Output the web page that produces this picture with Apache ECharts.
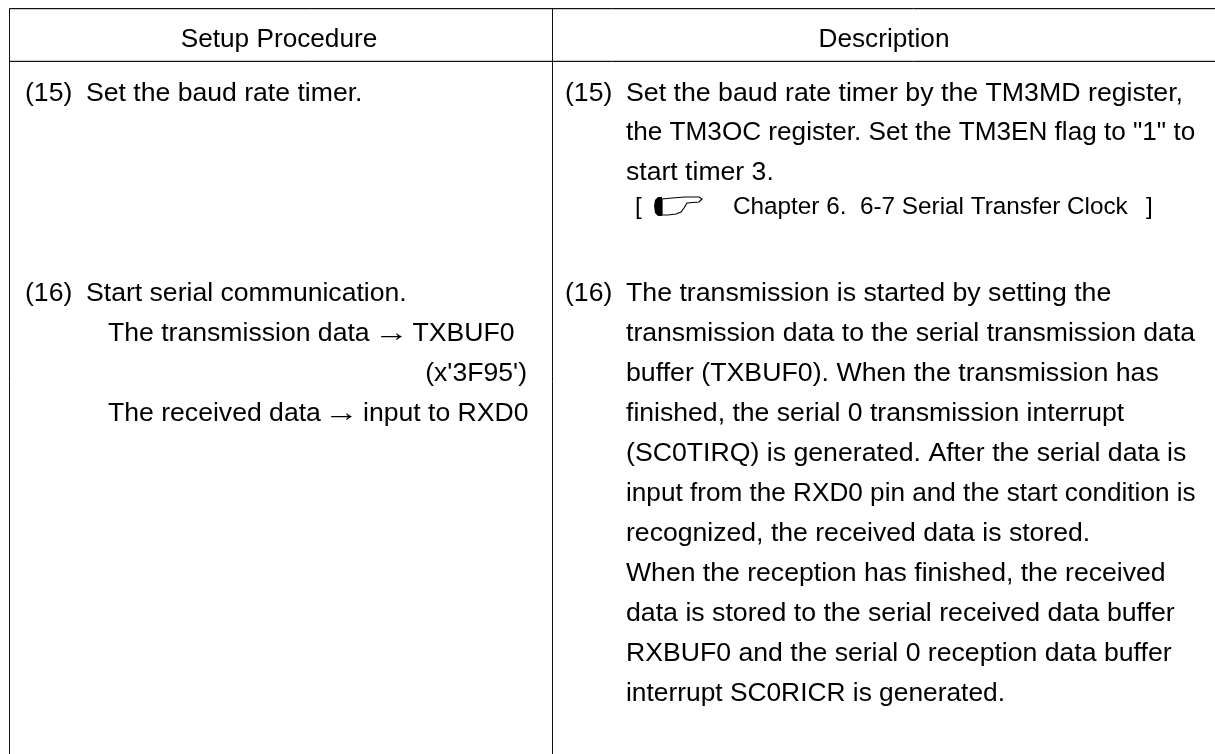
<!DOCTYPE html>
<html><head><meta charset="utf-8">
<style>html,body{margin:0;padding:0;background:#fff}#c{width:1215px;height:754px}</style>
<script src="https://cdn.jsdelivr.net/npm/echarts@6/dist/echarts.min.js"></script>
</head><body><div id="c"></div>
<script>
// content
const headers = ["Setup Procedure", "Description"];
const itemNumbers = ["(15)", "(16)"];
const procedure15 = ["Set the baud rate timer."];
const procedure16 = ["Start serial communication.", "The transmission data", "TXBUF0", "(x'3F95')", "The received data", "input to RXD0"];
const arrowGlyph = "\u2192";
const description15 = [
  "Set the baud rate timer by the TM3MD register,",
  "the TM3OC register. Set the TM3EN flag to \"1\" to",
  "start timer 3."
];
const referenceNote = ["[", "Chapter 6.  6-7 Serial Transfer Clock", "]"];
const description16 = [
  "The transmission is started by setting the",
  "transmission data to the serial transmission data",
  "buffer (TXBUF0). When the transmission has",
  "finished, the serial 0 transmission interrupt",
  "(SC0TIRQ) is generated. After the serial data is",
  "input from the RXD0 pin and the start condition is",
  "recognized, the received data is stored.",
  "When the reception has finished, the received",
  "data is stored to the serial received data buffer",
  "RXBUF0 and the serial 0 reception data buffer",
  "interrupt SC0RICR is generated."
];

// layout
const FONT = '"Liberation Sans", Arial, sans-serif';
const BODY = 26.6, HEAD = 26.2, NOTE = 24.3, DY = 0.8;
const L=9.5, T=8.5, H=61.5, M=552.5, R=1215, B=754;
const ROW15 = 93, ROW16 = 293, PITCH = 40;
const D_X = 626;
const d15Y = [93, 132, 172];
const d15Scale = [1.005, 0.983, 1];
const d16Scale = [1.004, 1, 1.005, 1, 1.003, 0.983, 1, 1, 1.004, 1.001, 0.99];

const txt = (s, x, y, o={}) => ({type:'text', x, y:y+DY, scaleX:o.scaleX||1, silent:true, style:{
  text:s, x:0, y:0, fill:'#000', font:(o.size||BODY)+'px '+FONT,
  textAlign:o.align||'left', textVerticalAlign:'middle'}});
const line = (x1,y1,x2,y2,c) => ({type:'line', silent:true, shape:{x1,y1,x2,y2}, style:{stroke:c||'#111', lineWidth:1}});

const els = [
  line(L,T+1,R,T+1,'#ccc'), line(L,H-1,R,H-1,'#ccc'),
  line(L,T,R,T), line(L,H,R,H), line(L,T,L,B), line(M,T,M,B),
  txt(headers[0], 279, 38.5, {size:HEAD,align:'center'}),
  txt(headers[1], 884, 38.5, {size:HEAD,align:'center'})
];
[ROW15, ROW16].forEach((y,i) => {
  els.push(txt(itemNumbers[i], 25, y));
  els.push(txt(itemNumbers[i], 565, y));
});
els.push(txt(procedure15[0], 86, ROW15));
els.push(txt(procedure16[0], 86, ROW16));
els.push(txt(procedure16[1], 108, ROW16+PITCH));
els.push(txt(arrowGlyph, 391.5, ROW16+PITCH, {align:'center', scaleX:1.3}));
els.push(txt(procedure16[2], 412.5, ROW16+PITCH));
els.push(txt(procedure16[3], 527, ROW16+2*PITCH, {align:'right'}));
els.push(txt(procedure16[4], 108, ROW16+3*PITCH));
els.push(txt(arrowGlyph, 341.5, ROW16+3*PITCH, {align:'center', scaleX:1.3}));
els.push(txt(procedure16[5], 363, ROW16+3*PITCH));
description15.forEach((s,i) => els.push(txt(s, D_X, d15Y[i], {scaleX:d15Scale[i]})));
description16.forEach((s,i) => els.push(txt(s, D_X, ROW16+i*PITCH, {scaleX:d16Scale[i]})));
els.push(txt(referenceNote[0], 635, 207, {size:NOTE}));
els.push(txt(referenceNote[1], 733, 207, {size:NOTE}));
els.push(txt(referenceNote[2], 1146, 207, {size:NOTE}));
// pointing-hand icon
els.push({type:'polygon', silent:true, shape:{points:[[658,197],[655,200],[654,206],[655,213],[658,216],[662,216],[662,197]]}, style:{fill:'#000'}});
els.push({type:'polygon', silent:true, shape:{points:[[662,199],[672,198],[685,197],[699,197],[702,199],[699,202],[687,203],[684,208],[681,212],[676,214],[668,215],[662,215]]}, style:{fill:'#fff',stroke:'#000',lineWidth:1.2}});

const chart = echarts.init(document.getElementById('c'), null, {renderer:'canvas'});
chart.setOption({animation:false, backgroundColor:'#fff', graphic:{elements:els}});
</script></body></html>
